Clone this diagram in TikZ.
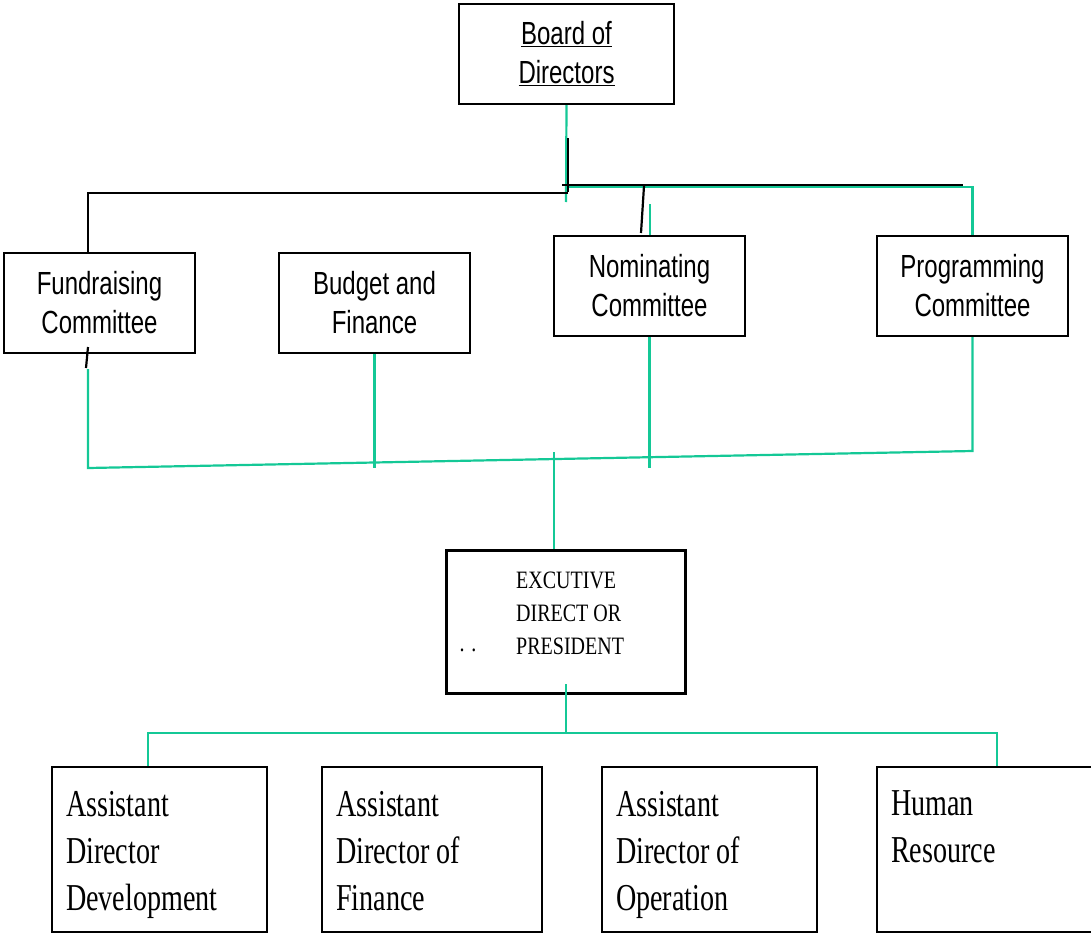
\documentclass[tikz,border=0pt]{standalone}
\usepackage{fontspec}
\usepackage{tikz}
\newfontfamily\narrowsans[FakeStretch=0.75]{Liberation Sans}
\newfontfamily\narrowserif[FakeStretch=0.74]{Liberation Serif}
\newfontfamily\execserif[FakeStretch=0.8]{Liberation Serif}
\definecolor{tiegreen}{RGB}{20,200,150}
\tikzset{
  box/.style={draw, line width=2.4pt, rectangle, inner sep=0pt},
  cbox/.style={box, minimum width=191pt, minimum height=100pt, align=center,
    font=\narrowsans\fontsize{32}{39}\selectfont},
  sbox/.style={box, minimum width=215pt, minimum height=165pt},
  stext/.style={anchor=north west, inner sep=0pt, align=flush left,
    font=\narrowserif\fontsize{38}{47}\selectfont},
  tie/.style={draw=tiegreen, line width=2.2pt},
  link/.style={draw=black, line width=2.2pt}
}
\begin{document}
\begin{tikzpicture}[x=1pt,y=-1pt]
    \useasboundingbox (0,0) rectangle (1091,934);
    \node[cbox, minimum width=215pt] (board) at (566.5, 54) {\underline{Board of}\\\underline{Directors}};
    \node[cbox] (fund) at ( 99.5, 303) {Fundraising\\Committee};
    \node[cbox] (budg) at (374.5, 303) {Budget and\\Finance};
    \node[cbox] (nom)  at (649.5, 286) {Nominating\\Committee};
    \node[cbox] (prog) at (972.5, 286) {Programming\\Committee};
    \node[box, line width=3pt, minimum width=239pt, minimum height=143pt] (exec) at (565.5, 621.5) {};
    \node[anchor=west, inner sep=0pt, align=flush left, font=\execserif\fontsize{25}{33}\selectfont] (exectxt) at (516, 613) {EXCUTIVE\\DIRECT OR\\PRESIDENT};
    \node[inner sep=0pt, font=\execserif\fontsize{25}{33}\selectfont] (dots) at (468, 650) {. .};
    \node[sbox] (adev) at (159.5, 849.5) {};
    \node[sbox, minimum width=220pt] (afin) at (432.0, 849.5) {};
    \node[sbox] (aop)  at (709.5, 849.5) {};
    \node[sbox, minimum width=222pt] (hr)   at (988.0, 849.5) {};
    \node[stext] (adevtxt) at ([shift={(15,25)}]adev.north west) {Assistant\\Director\\Development};
    \node[stext] (afintxt) at ([shift={(15,25)}]afin.north west) {Assistant\\Director of\\Finance};
    \node[stext] (aoptxt)  at ([shift={(15,25)}]aop.north west)  {Assistant\\Director of\\Operation};
    \node[stext] (hrtxt)   at ([shift={(15,25)}]hr.north west)   {Human\\Resource};
    \coordinate (gdrop) at (566, 202);
    \coordinate (gtop)  at (566, 187);
    \coordinate (gnom)  at (650, 204);
    \coordinate (fbot)  at ( 88, 369);
    \coordinate (busL)  at ( 88, 468);
    \coordinate (busR)  at (972.5, 451);
    \coordinate (bfoot) at (374.5, 468);
    \coordinate (nfoot) at (649.5, 468);
    \coordinate (ein)   at (554, 452);
    \coordinate (eout)  at (566, 684);
    \coordinate (lowL)  at (148, 733);
    \coordinate (lowR)  at (997, 733);
    \coordinate (kstem) at (568, 138);
    \coordinate (kbar)  at (568, 192);
    \coordinate (kL)    at (562, 185);
    \coordinate (kR)    at (963, 185);
    \coordinate (fL)    at ( 88, 193);
    \coordinate (fM)    at (568, 193);
    \coordinate (nk1)   at (644, 186);
    \coordinate (nk2)   at (641, 233);
    \coordinate (fk1)   at ( 88, 347);
    \coordinate (fk2)   at ( 86, 368);
    \draw [tie] (board.south) -- (gdrop);
    \draw [tie] (gtop) -| (prog.north);
    \draw [tie] (gnom) -- (gnom |- nom.north);
    \draw [tie] (fbot) -- (busL) -- (busR) -- (prog.south);
    \draw [tie] (budg.south) -- (bfoot);
    \draw [tie] (nom.south) -- (nfoot);
    \draw [tie] (ein) -- (ein |- exec.north);
    \draw [tie] (eout) -- (eout |- lowL);
    \draw [tie] (lowL |- adev.north) -- (lowL) -- (lowR) -- (lowR |- hr.north);
    \draw [link] (kstem) -- (kbar);
    \draw [link] (kL) -- (kR);
    \draw [link] (fM) -- (fL) -- (fL |- fund.north);
    \draw [link] (nk1) -- (nk2);
    \draw [link] (fk1) -- (fk2);
  \end{tikzpicture}
\end{document}
